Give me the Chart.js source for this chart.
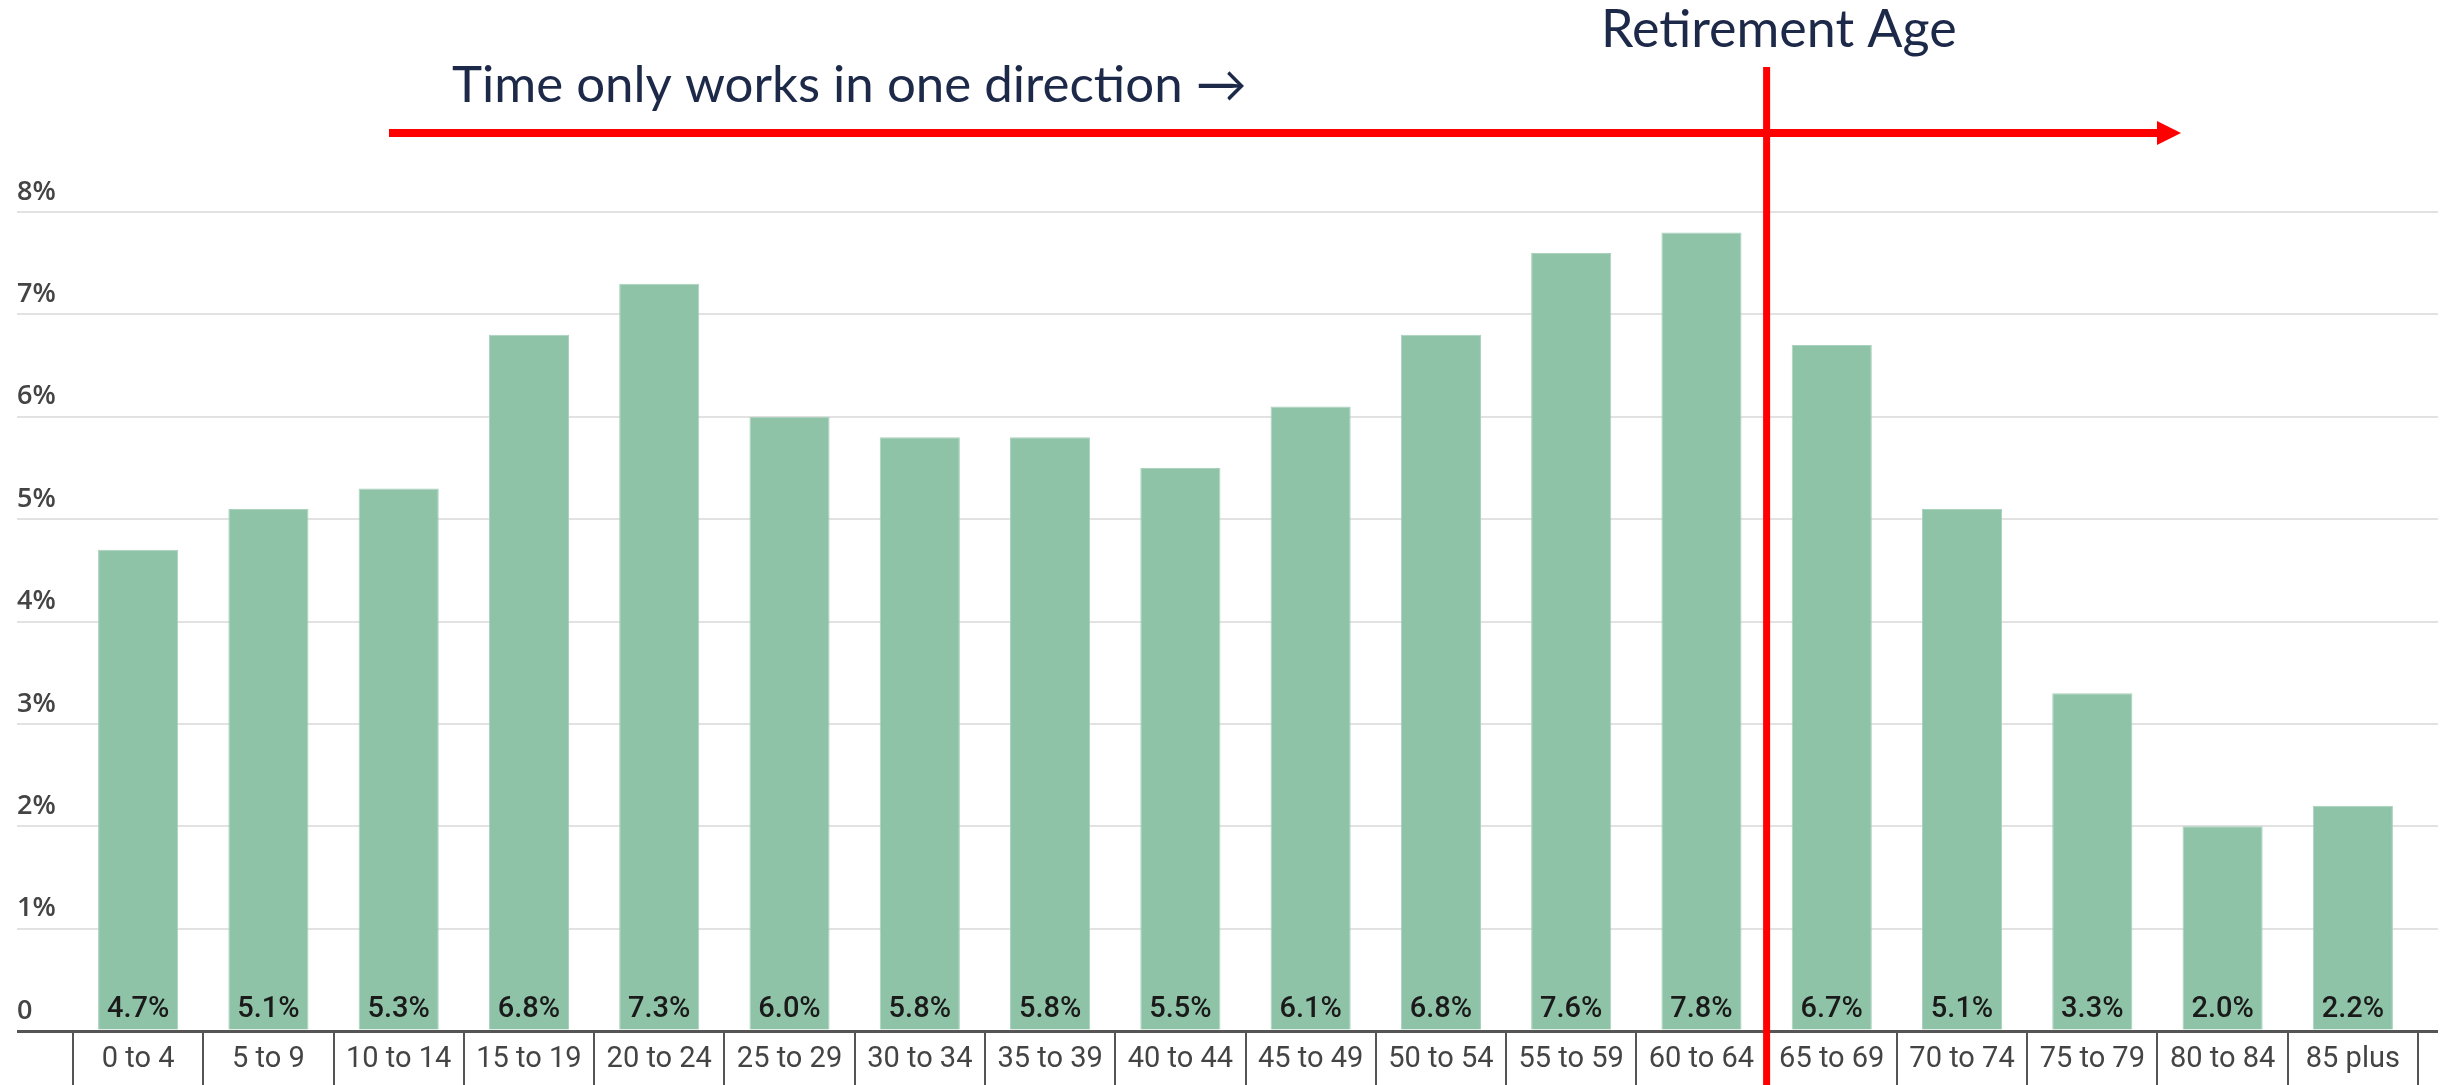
<!DOCTYPE html>
<html>
<head>
<meta charset="utf-8">
<script src="https://cdn.jsdelivr.net/npm/chart.js@4"></script>
<style>
  html, body { margin: 0; padding: 0; background: #fff; }
  #wrap { width: 2450px; height: 1085px; }
</style>
</head>
<body>
<div id="wrap"><canvas id="ageChart"></canvas></div>
<script>
// age bands and share of population (%)
const ageBands = ["0 to 4", "5 to 9", "10 to 14", "15 to 19", "20 to 24", "25 to 29", "30 to 34", "35 to 39", "40 to 44",
  "45 to 49", "50 to 54", "55 to 59", "60 to 64", "65 to 69", "70 to 74", "75 to 79", "80 to 84", "85 plus"];
const shares = [4.7, 5.1, 5.3, 6.8, 7.3, 6.0, 5.8, 5.8, 5.5, 6.1, 6.8, 7.6, 7.8, 6.7, 5.1, 3.3, 2.0, 2.2];
const yMin = 0;
const yMax = 8;
const yStep = 1;
const retireAfter = "60 to 64"; // red line sits after this band

const barGreen = "#8fc3a8";
const navy = "#1d2948";
const red = "#ff0000";

const gridColor = (ctx) => (ctx.tick && ctx.tick.value === 0 ? "#555" : "#e2e2e2");
const gridWidth = (ctx) => (ctx.tick && ctx.tick.value === 0 ? 3 : 2);

// percentage labels at the foot of each bar
const valueLabels = {
  id: "valueLabels",
  afterDatasetsDraw(chart) {
    const { ctx } = chart;
    const base = chart.scales.y.getPixelForValue(0);
    ctx.save();
    ctx.font = "500 29px Roboto";
    ctx.fillStyle = "#1a1a1a";
    ctx.textAlign = "center";
    ctx.textBaseline = "middle";
    chart.getDatasetMeta(0).data.forEach((bar, i) => {
      ctx.fillText(shares[i].toFixed(1) + "%", bar.x, base - 21);
    });
    ctx.restore();
  },
};

// red arrow, retirement line and the two captions
const annotations = {
  id: "annotations",
  afterDraw(chart) {
    const { ctx } = chart;
    const xs = chart.scales.x;
    const idx = ageBands.indexOf(retireAfter);
    const lineX = (xs.getPixelForValue(idx) + xs.getPixelForValue(idx + 1)) / 2;
    ctx.save();

    ctx.fillStyle = red;
    ctx.fillRect(389, 129, 1770, 8);
    ctx.beginPath();
    ctx.moveTo(2157, 121);
    ctx.lineTo(2181, 133);
    ctx.lineTo(2157, 145);
    ctx.closePath();
    ctx.fill();

    ctx.fillRect(lineX - 3.5, 67, 7, chart.height - 67);

    ctx.fillStyle = navy;
    ctx.font = "51px Lato";
    ctx.textAlign = "left";
    ctx.textBaseline = "alphabetic";
    ctx.fillText("Time only works in one direction \u2192", 452, 102);
    ctx.font = "52px Lato";
    ctx.fillText("Retirement Age", 1601, 47);
    ctx.restore();
  },
};

new Chart(document.getElementById("ageChart"), {
  type: "bar",
  data: {
    labels: ageBands,
    datasets: [
      {
        data: shares,
        backgroundColor: barGreen,
        borderColor: "#a8d2bb",
        borderWidth: 1,
        categoryPercentage: 1,
        barPercentage: 0.615,
      },
    ],
  },
  options: {
    responsive: true,
    maintainAspectRatio: false,
    animation: false,
    layout: { padding: { left: 17, top: 212, right: 12, bottom: 0 } },
    plugins: {
      legend: { display: false },
      tooltip: { enabled: false },
    },
    scales: {
      x: {
        offset: true,
        border: { display: true, color: "#555", width: 3 },
        grid: {
          offset: true,
          drawOnChartArea: false,
          color: "#555",
          lineWidth: 2,
          tickLength: 54,
        },
        ticks: {
          autoSkip: false,
          maxRotation: 0,
          padding: -43,
          color: "#444",
          font: { family: "Roboto", size: 29 },
        },
        afterFit: (scale) => {
          scale.height = 54;
        },
      },
      y: {
        min: yMin,
        max: yMax,
        border: { display: false },
        grid: { color: gridColor, lineWidth: gridWidth, tickLength: 56 },
        ticks: {
          stepSize: yStep,
          crossAlign: "far",
          labelOffset: -20,
          color: "#444",
          font: { family: "'Open Sans'", size: 27, weight: "600" },
          callback: (v) => (v === 0 ? "0" : v + "%"),
        },
        afterFit: (scale) => {
          scale.width = 56;
        },
      },
      yRight: {
        position: "right",
        min: yMin,
        max: yMax,
        border: { display: false },
        grid: { drawOnChartArea: false, color: gridColor, lineWidth: gridWidth, tickLength: 20 },
        ticks: { stepSize: yStep, display: false },
        afterFit: (scale) => {
          scale.width = 20;
        },
      },
    },
  },
  plugins: [valueLabels, annotations],
});
</script>
</body>
</html>
